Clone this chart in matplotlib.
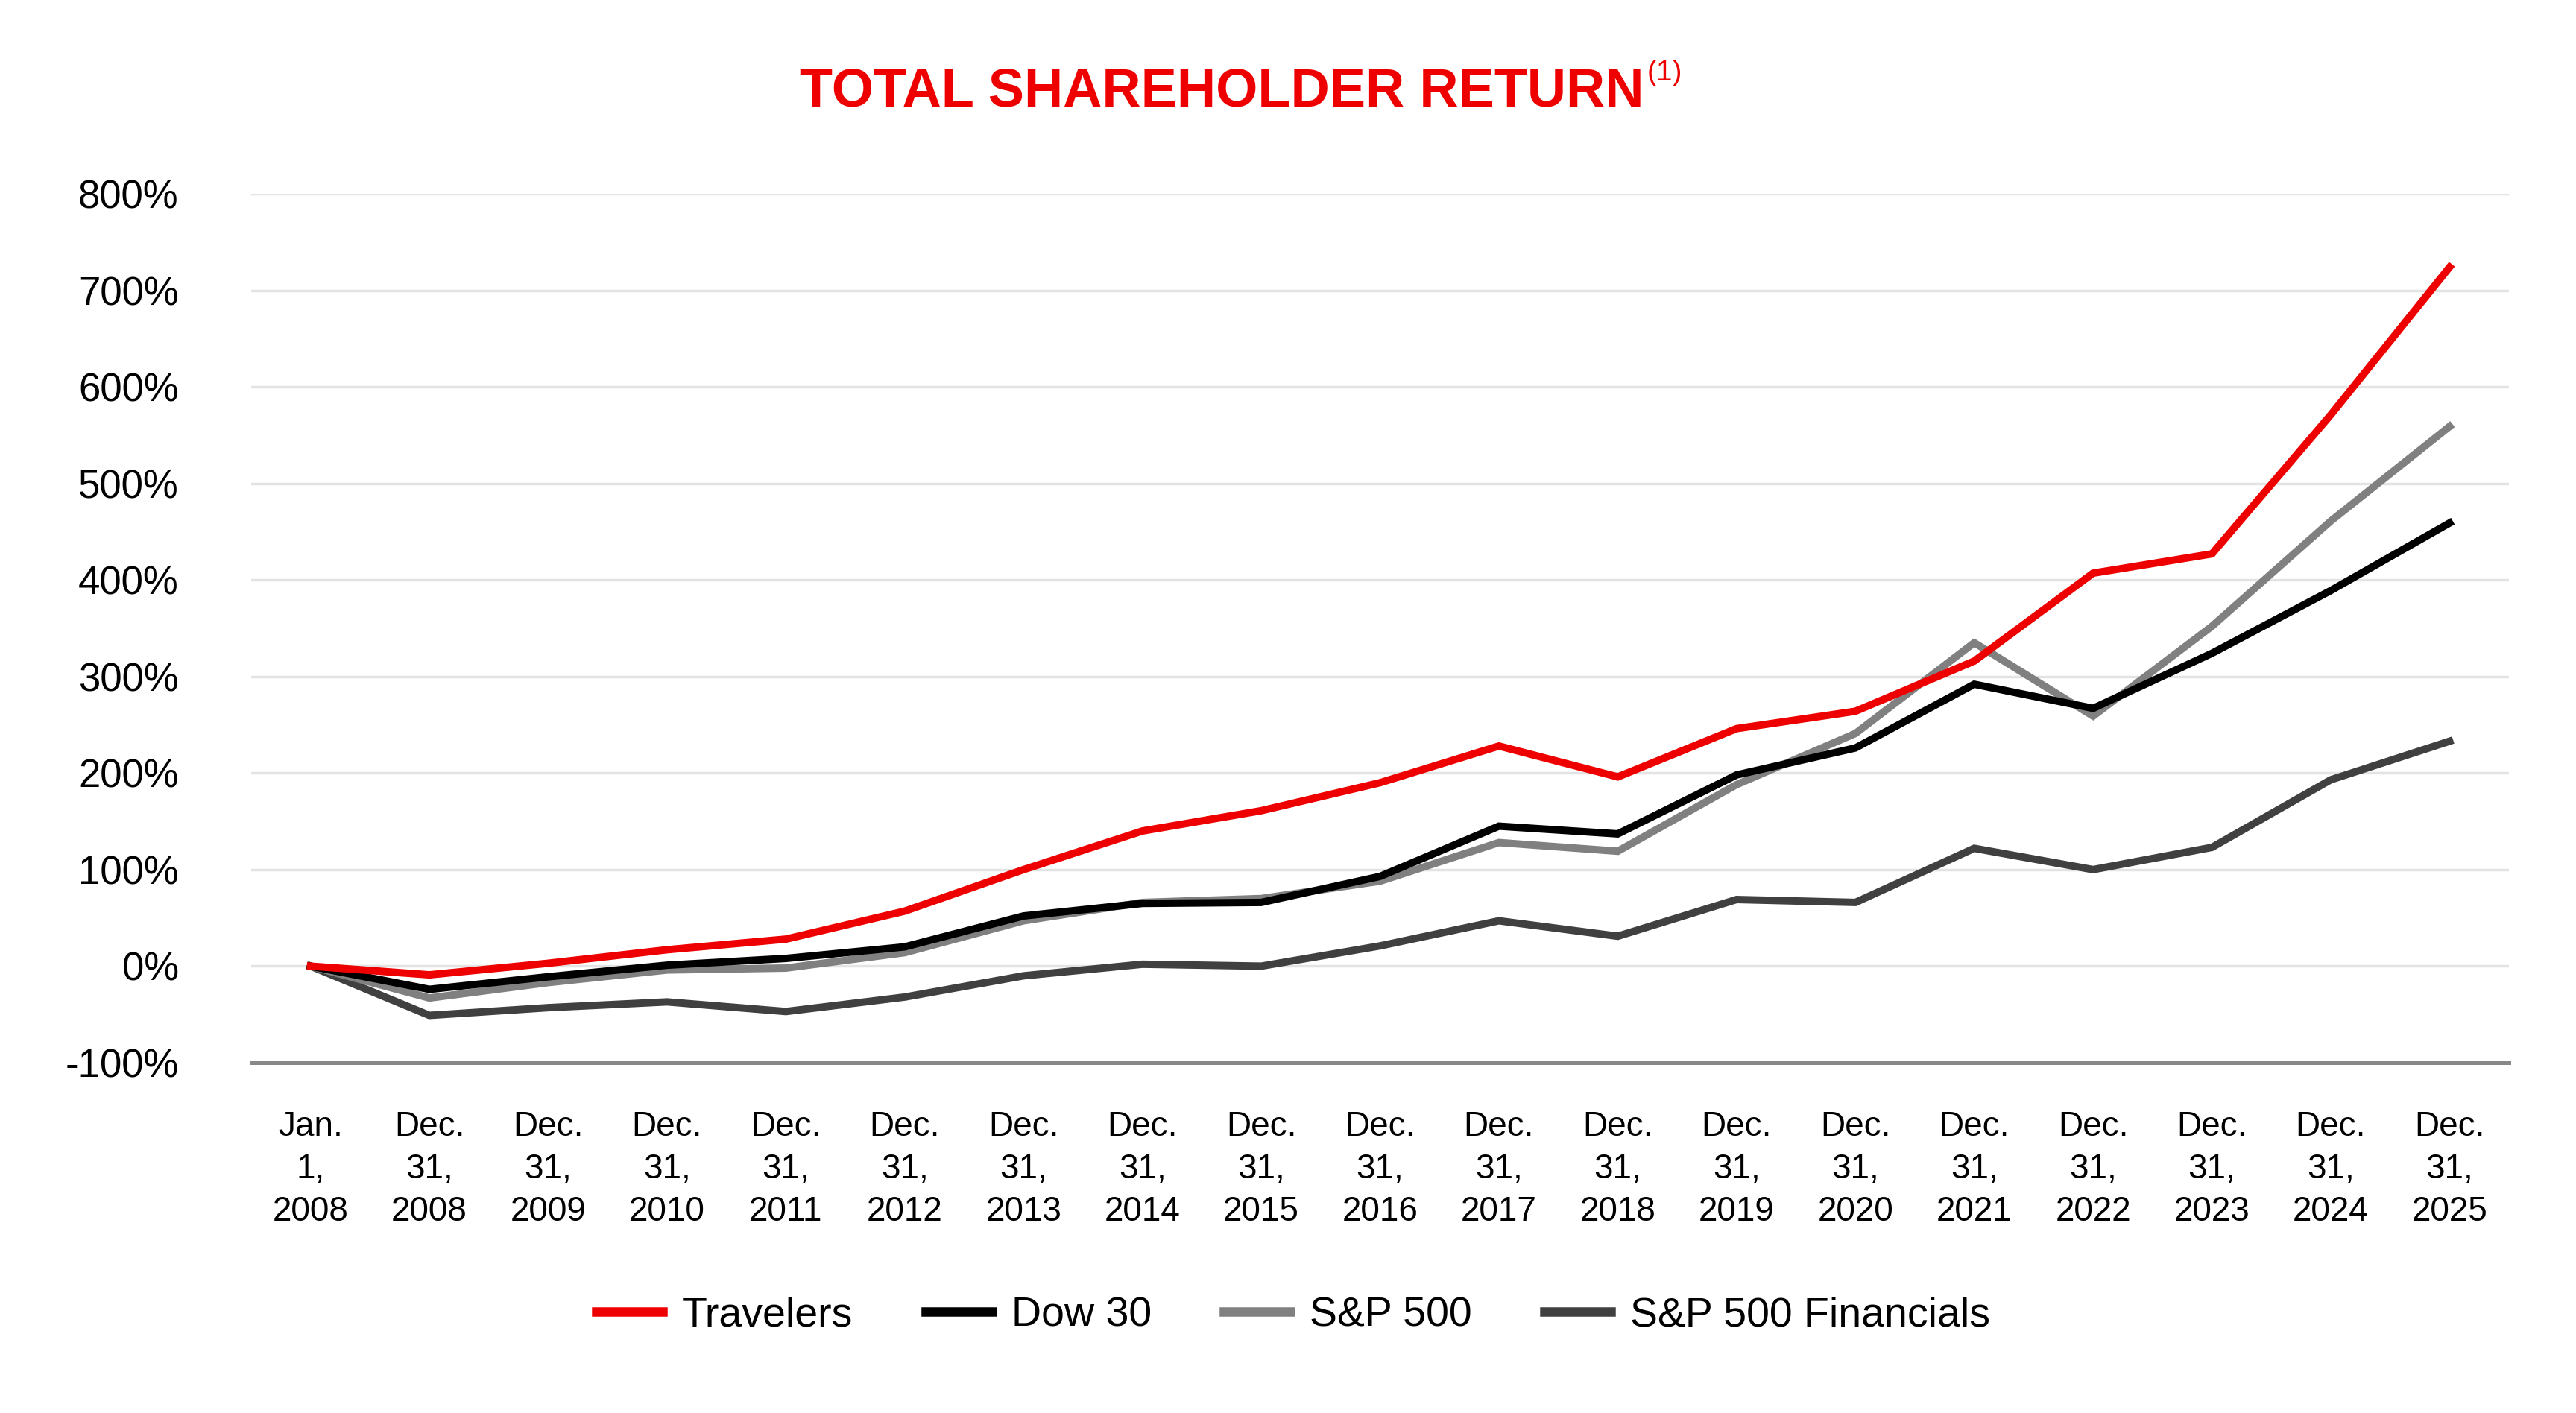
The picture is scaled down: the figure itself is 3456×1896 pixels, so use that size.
import matplotlib
matplotlib.use("Agg")
import matplotlib.pyplot as plt

# x categories (year-end points)
labels = ["Jan.\n1,\n2008"] + ["Dec.\n31,\n%d" % y for y in range(2008, 2026)]

# cumulative total shareholder return, %
travelers = [0, -9, 3, 17, 28, 57, 100, 140, 161, 190, 228, 196, 246, 264, 316, 407, 427, 571, 724]
dow30 = [0, -24, -11, 1, 8, 20, 52, 65, 66, 93, 145, 137, 198, 226, 292, 267, 324, 389, 459]
sp500 = [0, -33, -17, -4, -2, 14, 47, 66, 70, 88, 128, 119, 188, 241, 335, 259, 352, 461, 559]
sp500_fin = [0, -51, -43, -37, -47, -32, -10, 2, 0, 21, 47, 31, 69, 66, 122, 100, 123, 193, 233]

series = [
    ("Travelers", travelers, "#EE0000"),
    ("Dow 30", dow30, "#000000"),
    ("S&P 500", sp500, "#808080"),
    ("S&P 500 Financials", sp500_fin, "#404040"),
]

plt.rcParams["font.family"] = ["Liberation Sans", "DejaVu Sans"]

fig = plt.figure(figsize=(34.56, 18.96), dpi=100)
ax = fig.add_axes([0.0975, 0.2479, 0.8765, 0.615])

x = list(range(len(labels)))
# draw in reverse so Travelers is on top
for name, vals, col in reversed(series):
    ax.plot(x, vals, color=col, lw=7.2, solid_joinstyle="miter", label=name)

ax.set_xlim(-0.5, len(labels) - 0.5)
ax.set_ylim(-100, 800)
ax.set_yticks(range(-100, 801, 100))
ax.set_yticklabels(["%d%%" % v for v in range(-100, 801, 100)], fontsize=38)
ax.set_xticks(x)
ax.set_xticklabels(labels, fontsize=33, linespacing=1.38)
ax.tick_params(axis="y", length=0, pad=70)
ax.tick_params(axis="x", length=0, pad=46)

ax.grid(axis="y", color="#E3E3E3", lw=2.5, zorder=0)
ax.set_axisbelow(True)
for s in ["top", "right", "left"]:
    ax.spines[s].set_visible(False)
ax.spines["bottom"].set_color("#888888")
ax.spines["bottom"].set_linewidth(3.6)

# legend in original order
handles, lbls = ax.get_legend_handles_labels()
handles, lbls = handles[::-1], lbls[::-1]
leg = fig.legend(handles, lbls, loc="center", bbox_to_anchor=(0.502, 0.069), ncol=4,
                 frameon=False, fontsize=40, handlelength=1.6, handletextpad=0.47,
                 columnspacing=1.75)
for h in leg.get_lines():
    h.set_linewidth(9)

title = fig.text(0.3106, 0.9246, "TOTAL SHAREHOLDER RETURN", fontsize=52,
                 fontweight="bold", color="#EE0000", ha="left", va="baseline")
fig.canvas.draw()
bb = title.get_window_extent()
fig.text(bb.x1 / fig.bbox.width + 0.001, 0.9246 + 0.033, "(1)", fontsize=28,
         color="#EE0000", ha="left", va="top")

fig.savefig("out.png", dpi=100, facecolor="white")
